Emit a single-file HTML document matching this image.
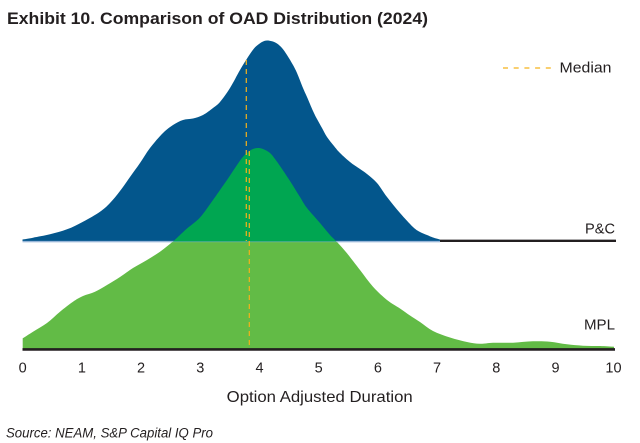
<!DOCTYPE html>
<html>
<head>
<meta charset="utf-8">
<style>
html,body{margin:0;padding:0;background:#fff;}
svg{display:block;}
text{font-family:"Liberation Sans",sans-serif;fill:#231f20;}
</style>
</head>
<body>
<svg id="chart" width="640" height="443" viewBox="0 0 640 443" xmlns="http://www.w3.org/2000/svg">
<defs>
<clipPath id="above"><rect x="0" y="0" width="640" height="241.7"/></clipPath>
<clipPath id="below"><rect x="0" y="241.7" width="640" height="200"/></clipPath>
</defs>
<text x="7" y="24" font-size="17" font-weight="bold" textLength="421" lengthAdjust="spacingAndGlyphs">Exhibit 10. Comparison of OAD Distribution (2024)</text>

<!-- P&C -->
<polygon id="pc" fill="#03568c" points="22.5,242 22.5,239.5 33,237.7 50,234.3 67,229.3 83,221.7 100,211.7 110,203 120,191 130,177 140,163 150,148 163,133 173,125 183,120 193,118.5 203,115 213,108 220,102 230,88 240,70 248,57 254,48.5 259,44 263,41.5 267,40.5 272,41.3 277,43.5 282,48 287,55 293,65 297,73 303,88 307,97 313,111 317,119 322,128 327,137 334,146 340,153 350,162 357,167 367,174 377,183 387,197 400,213 413,227 420,232 427,235 433,237.5 440,239.5 440,242"/>
<path id="pcs" fill="#03568c" d=""/>
<line x1="22.5" y1="241.6" x2="440" y2="241.6" stroke="#9dbbdd" stroke-width="1.4"/>
<line x1="440" y1="240.8" x2="616" y2="240.8" stroke="#231f20" stroke-width="2.4"/>

<!-- MPL -->
<polygon id="mplA" clip-path="url(#below)" fill="#62bb46" points="22.7,349.5 22.7,338.3 33,331.7 47,323 60,311.7 73,301.7 83,296 95,291.7 107,285 120,277 133,268 147,260 160,251.7 172,242.3 180,235 187,228.5 200,217.5 213,200 220,190 227,180 235,168 242,158 248,152 253,149 258,148 263,149 270,153 275,159 280,166 290,181 300,197 307,208 320,223 330,235 337,242 347,253.3 360,270 373,286.7 387,300 400,308.5 410,315.5 420,322 433,331 450,337.5 467,342 480,343.8 493,342.8 513,342.7 533,341.3 550,341.7 567,344.3 583,345.7 600,346 614,346.7 614,349.5"/>
<polygon id="mplB" clip-path="url(#above)" fill="#00a651" points="22.7,349.5 22.7,338.3 33,331.7 47,323 60,311.7 73,301.7 83,296 95,291.7 107,285 120,277 133,268 147,260 160,251.7 172,242.3 180,235 187,228.5 200,217.5 213,200 220,190 227,180 235,168 242,158 248,152 253,149 258,148 263,149 270,153 275,159 280,166 290,181 300,197 307,208 320,223 330,235 337,242 347,253.3 360,270 373,286.7 387,300 400,308.5 410,315.5 420,322 433,331 450,337.5 467,342 480,343.8 493,342.8 513,342.7 533,341.3 550,341.7 567,344.3 583,345.7 600,346 614,346.7 614,349.5"/>
<path id="mplAs" clip-path="url(#below)" fill="#62bb46" d=""/>
<path id="mplBs" clip-path="url(#above)" fill="#00a651" d=""/>
<line x1="22.5" y1="241.8" x2="440" y2="241.8" stroke="#8fb0cf" stroke-width="0.8" opacity="0.6"/>
<line x1="22.5" y1="349.4" x2="615" y2="349.4" stroke="#231f20" stroke-width="2.6"/>

<!-- Medians -->
<line x1="246.3" y1="60" x2="246.3" y2="241" stroke="#f5b21b" stroke-width="1.2" stroke-dasharray="5 4"/>
<line x1="249.3" y1="151" x2="249.3" y2="348" stroke="#f5b21b" stroke-width="1.2" stroke-dasharray="5 4"/>

<!-- Legend -->
<line x1="503" y1="68" x2="551" y2="68" stroke="#f5b21b" stroke-width="1.2" stroke-dasharray="5 5.7"/>
<text x="559.5" y="72.6" font-size="15" textLength="52" lengthAdjust="spacingAndGlyphs">Median</text>

<text x="585" y="233.3" font-size="15" textLength="30" lengthAdjust="spacingAndGlyphs">P&amp;C</text>
<text x="584" y="329.7" font-size="15" textLength="31" lengthAdjust="spacingAndGlyphs">MPL</text>

<!-- Ticks -->
<g font-size="14.5" text-anchor="middle">
<text x="22.7" y="372.7">0</text>
<text x="81.9" y="372.7">1</text>
<text x="141.1" y="372.7">2</text>
<text x="200.3" y="372.7">3</text>
<text x="259.5" y="372.7">4</text>
<text x="318.7" y="372.7">5</text>
<text x="377.9" y="372.7">6</text>
<text x="437.1" y="372.7">7</text>
<text x="496.3" y="372.7">8</text>
<text x="555.5" y="372.7">9</text>
<text x="613.5" y="372.7">10</text>
</g>

<text x="226.7" y="402" font-size="16" textLength="186" lengthAdjust="spacingAndGlyphs">Option Adjusted Duration</text>
<text x="6" y="437.7" font-size="13.5" font-style="italic" textLength="207" lengthAdjust="spacingAndGlyphs">Source: NEAM, S&amp;P Capital IQ Pro</text>
</svg>
<script>
(function(){
  function smooth(poly){
    var raw = poly.getAttribute('points').trim().split(/\s+/).map(function(s){var a=s.split(',');return [parseFloat(a[0]),parseFloat(a[1])];});
    // first and last are baseline corners; smooth the interior curve
    var first = raw[0], last = raw[raw.length-1];
    var p = raw.slice(1, raw.length-1);
    var d = 'M'+first[0]+','+first[1]+' L'+p[0][0]+','+p[0][1];
    for (var i=0;i<p.length-1;i++){
      var p0 = p[i-1]||p[i], p1=p[i], p2=p[i+1], p3=p[i+2]||p[i+1];
      var c1x = p1[0]+(p2[0]-p0[0])/6, c1y = p1[1]+(p2[1]-p0[1])/6;
      var c2x = p2[0]-(p3[0]-p1[0])/6, c2y = p2[1]-(p3[1]-p1[1])/6;
      d += ' C'+c1x.toFixed(2)+','+c1y.toFixed(2)+' '+c2x.toFixed(2)+','+c2y.toFixed(2)+' '+p2[0]+','+p2[1];
    }
    d += ' L'+last[0]+','+last[1]+' Z';
    return d;
  }
  try{
    var pairs=[['pc','pcs'],['mplA','mplAs'],['mplB','mplBs']];
    pairs.forEach(function(pr){
      var poly=document.getElementById(pr[0]);
      var path=document.getElementById(pr[1]);
      path.setAttribute('d', smooth(poly));
      poly.setAttribute('display','none');
    });
  }catch(e){}
})();
</script>
</body>
</html>
